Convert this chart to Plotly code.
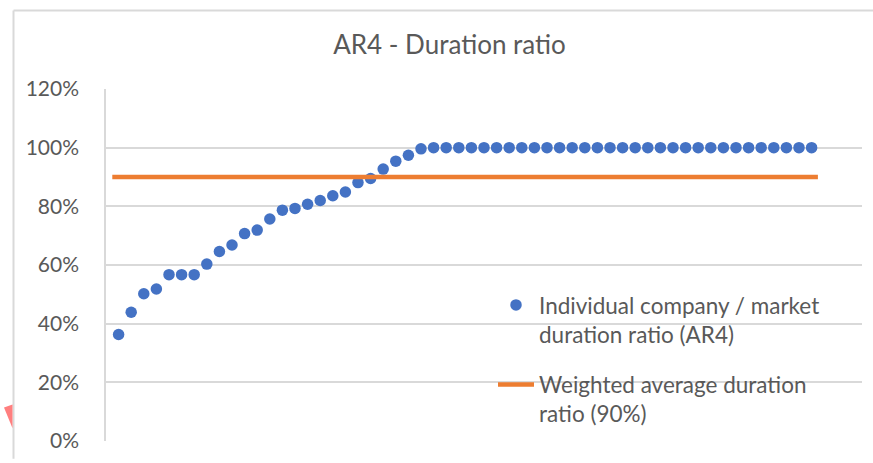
import plotly.graph_objects as go

# ---- data ----
company_index = list(range(1, 57))
duration_ratio = [
    0.363, 0.439, 0.502, 0.518, 0.567, 0.567, 0.567, 0.603, 0.646, 0.668,
    0.707, 0.719, 0.757, 0.787, 0.793, 0.807, 0.820, 0.836, 0.849, 0.881,
    0.895, 0.927, 0.954, 0.974, 0.996, 1.00, 1.00, 1.00, 1.00, 1.00,
    1.00, 1.00, 1.00, 1.00, 1.00, 1.00, 1.00, 1.00, 1.00, 1.00,
    1.00, 1.00, 1.00, 1.00, 1.00, 1.00, 1.00, 1.00, 1.00, 1.00,
    1.00, 1.00, 1.00, 1.00, 1.00, 1.00,
]
weighted_x = [0.5, 56.5]
weighted_ratio = [0.90, 0.90]
y_ticks = [0, 0.2, 0.4, 0.6, 0.8, 1.0, 1.2]
y_tick_labels = ["0%", "20%", "40%", "60%", "80%", "100%", "120%"]

series_names = [
    "Individual company / market<br>duration ratio (AR4)",
    "Weighted average duration<br>ratio (90%)",
]
title_text = "AR4 - Duration ratio"

# ---- styling ----
W, H = 873, 463
L, R, T, B = 106, 11, 89, 18
FONT = "Lato, Calibri, sans-serif"
TXT = "#595959"
GRID = "#D9D9D9"
BLUE = "#4472C4"
ORANGE = "#ED7D31"

pw = W - L - R
ph = H - T - B


def px(xp):
    return (xp - L) / pw


def py(yp):
    return (H - B - yp) / ph


fig = go.Figure()
fig.add_trace(go.Scatter(
    x=company_index, y=duration_ratio, mode="markers", name=series_names[0],
    legendgroup="g1",
    marker=dict(color=BLUE, size=11.5),
))
fig.add_trace(go.Scatter(
    x=weighted_x, y=weighted_ratio, mode="lines", name=series_names[1],
    legendgroup="g2",
    line=dict(color=ORANGE, width=4.5),
))

shapes = [
    # white legend background hiding gridlines
    dict(type="rect", xref="paper", yref="paper", layer="between",
         x0=px(480), x1=px(848), y0=py(432), y1=py(282),
         fillcolor="white", line=dict(width=0)),
    # chart border fragments
    dict(type="line", xref="paper", yref="paper",
         x0=px(13.5), x1=px(13.5), y0=py(9.5), y1=py(463),
         line=dict(color=GRID, width=2)),
    dict(type="line", xref="paper", yref="paper",
         x0=px(13.5), x1=px(873), y0=py(9.5), y1=py(9.5),
         line=dict(color=GRID, width=2)),
    # red triangle fragment
    dict(type="path", xref="paper", yref="paper",
         path=f"M {px(4)},{py(411)} L {px(12.5)},{py(408)} L {px(12.5)},{py(432)} Z",
         fillcolor="#FF7F7F", line=dict(width=0)),
]

fig.update_layout(
    width=W, height=H,
    margin=dict(l=L, r=R, t=T, b=B, pad=0),
    paper_bgcolor="white", plot_bgcolor="white",
    font=dict(family=FONT, color=TXT, size=21),
    title=dict(text=title_text, x=449.5 / W, xanchor="center",
               y=1 - 45 / H, yanchor="middle", yref="container",
               font=dict(size=26, color=TXT, family=FONT)),
    xaxis=dict(range=[0, 60], showgrid=False, zeroline=False,
               showticklabels=False, showline=False, ticks=""),
    yaxis=dict(range=[0, 1.2], tickvals=y_ticks, ticktext=y_tick_labels,
               showgrid=True, gridcolor=GRID, gridwidth=1.5,
               zeroline=False, showline=True, linecolor=GRID, linewidth=1.5,
               ticks="outside", ticklen=21, tickcolor="rgba(0,0,0,0)",
               tickfont=dict(size=21, color=TXT, family=FONT)),
    legend=dict(x=px(493), xanchor="left", y=py(286), yanchor="top",
                bgcolor="rgba(0,0,0,0)", valign="top", itemwidth=36,
                font=dict(size=22.5, color=TXT, family=FONT),
                tracegroupgap=18),
    showlegend=True,
    shapes=shapes,
)

fig.write_html("out.html",
               config={"displayModeBar": False},
               post_script="document.body.style.margin='0';"
                           "document.body.style.padding='0';")
